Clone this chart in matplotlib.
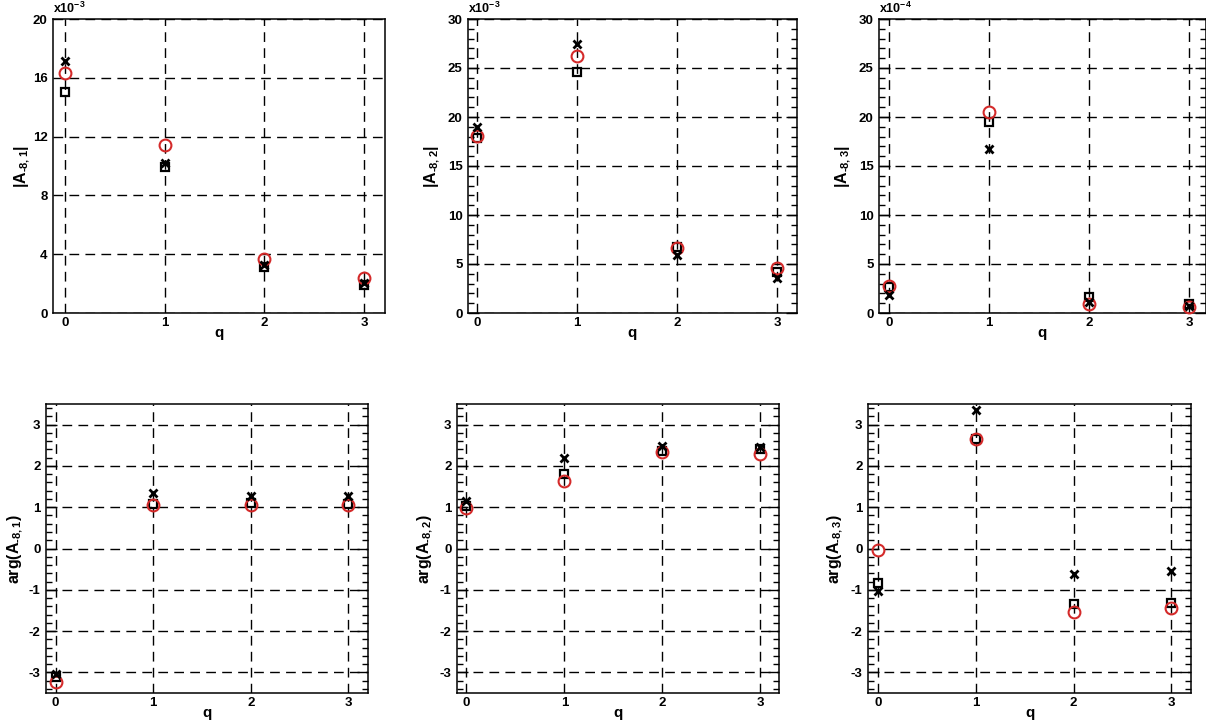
import matplotlib
matplotlib.use("Agg")
import matplotlib.pyplot as plt
from matplotlib.ticker import MultipleLocator, NullLocator

plt.rcParams['font.family'] = ['Liberation Sans', 'DejaVu Sans']
plt.rcParams['font.weight'] = 'bold'
plt.rcParams['axes.unicode_minus'] = False
plt.rcParams['mathtext.fontset'] = 'custom'
plt.rcParams['mathtext.rm'] = 'Liberation Sans:bold'
plt.rcParams['mathtext.it'] = 'Liberation Sans:bold'
plt.rcParams['mathtext.bf'] = 'Liberation Sans:bold'

# ---------------- data ----------------
q = [0, 1, 2, 3]

# |A_{-8,1}|  (x1e-3)
abs1_circle = [16.3, 11.45, 3.67, 2.35]
abs1_square = [15.0, 9.9, 3.15, 1.9]
abs1_cross = [17.15, 10.2, 3.26, 2.05]
# |A_{-8,2}|  (x1e-3)
abs2_circle = [18.1, 26.2, 6.65, 4.6]
abs2_square = [17.9, 24.6, 6.75, 4.2]
abs2_cross = [19.0, 27.4, 5.9, 3.6]
# |A_{-8,3}|  (x1e-4)
abs3_circle = [2.73, 20.55, 0.96, 0.6]
abs3_square = [2.7, 19.5, 1.64, 0.96]
abs3_cross = [1.8, 16.7, 1.1, 0.7]
# arg(A_{-8,1})
arg1_circle = [-3.24, 1.05, 1.06, 1.06]
arg1_square = [-3.11, 1.07, 1.09, 1.08]
arg1_cross = [-3.03, 1.34, 1.26, 1.26]
# arg(A_{-8,2})
arg2_circle = [0.98, 1.63, 2.33, 2.30]
arg2_square = [1.04, 1.80, 2.37, 2.41]
arg2_cross = [1.14, 2.19, 2.49, 2.46]
# arg(A_{-8,3})
arg3_circle = [-0.04, 2.65, -1.55, -1.44]
arg3_square = [-0.84, 2.65, -1.34, -1.32]
arg3_cross = [-1.02, 3.36, -0.62, -0.55]

ylabels = ['$|A_{\\text{-}8,1}|$', '$|A_{\\text{-}8,2}|$', '$|A_{\\text{-}8,3}|$',
           'arg$(A_{\\text{-}8,1})$', 'arg$(A_{\\text{-}8,2})$', 'arg$(A_{\\text{-}8,3})$']
exponents = ['-3', '-3', '-4', None, None, None]
xtick_labels = ['0', '1', '2', '3']

panels = [
    (abs1_circle, abs1_square, abs1_cross),
    (abs2_circle, abs2_square, abs2_cross),
    (abs3_circle, abs3_square, abs3_cross),
    (arg1_circle, arg1_square, arg1_cross),
    (arg2_circle, arg2_square, arg2_cross),
    (arg3_circle, arg3_square, arg3_cross),
]

# ---------------- layout (pixels) ----------------
W, H = 1206, 723
boxes = [  # left, right, top, bottom
    (53, 385, 19, 313),
    (468, 797, 19, 313),
    (879, 1206, 19, 313),
    (46, 368, 404, 693),
    (457, 779, 404, 693),
    (868, 1191, 404, 693),
]
xlims = [(-0.12, 3.21), (-0.093, 3.2), (-0.1, 3.17),
         (-0.098, 3.2), (-0.096, 3.19), (-0.1, 3.2)]
ylims = [(0, 20), (0, 30), (0, 30), (-3.5, 3.5), (-3.5, 3.5), (-3.5, 3.5)]
ymajor = [4, 5, 5, 1, 1, 1]
yminor = [None, 1, 1, 0.2, 0.2, 0.2]
ylabel_x = [22, 432, 843, 15, 425, 835]   # pixel x of y-label centre

fig = plt.figure(figsize=(W / 100, H / 100), dpi=100)
red = '#d42a2a'
fs = 9.5
axes = []

for i, (box, data) in enumerate(zip(boxes, panels)):
    l, r, t, b = box
    ax = fig.add_axes([l / W, 1 - b / H, (r - l) / W, (b - t) / H])
    axes.append(ax)
    ax.set_xlim(*xlims[i])
    ax.set_ylim(*ylims[i])
    ax.set_xticks(q)
    ax.set_xticklabels(xtick_labels)
    ax.yaxis.set_major_locator(MultipleLocator(ymajor[i]))
    if yminor[i]:
        ax.yaxis.set_minor_locator(MultipleLocator(yminor[i]))
    else:
        ax.yaxis.set_minor_locator(NullLocator())
    ax.tick_params(axis='x', length=0, pad=3, labelsize=fs)
    if i == 0:
        ax.tick_params(axis='y', which='both', length=0, pad=4, labelsize=fs)
    else:
        ax.tick_params(axis='y', which='major', direction='in', length=8,
                       width=1, left=True, right=True, pad=4, labelsize=fs)
        ax.tick_params(axis='y', which='minor', direction='in', length=4,
                       width=1, left=True, right=True)
    for s in ax.spines.values():
        s.set_linewidth(1.1)
    ax.grid(True, which='major', color='black', linewidth=1.0,
            linestyle=(0, (7, 4.5)))
    ax.set_axisbelow(True)

    c, s_, x_ = data
    ax.plot(q, s_, linestyle='none', marker='s', markersize=5.8,
            markerfacecolor='none', markeredgecolor='black',
            markeredgewidth=1.6, clip_on=False, zorder=3)
    ax.plot(q, c, linestyle='none', marker='o', markersize=8.5,
            markerfacecolor='none', markeredgecolor=red,
            markeredgewidth=1.5, clip_on=False, zorder=4)
    ax.plot(q, x_, linestyle='none', marker='x', markersize=6,
            markeredgecolor='black', markeredgewidth=2.0,
            clip_on=False, zorder=5)

    ax.set_xlabel('q', fontsize=11, fontweight='bold')
    ax.xaxis.label.set_va('center')
    ax.xaxis.set_label_coords(0.5, -20.0 / (b - t))
    ax.set_ylabel(ylabels[i], fontsize=11.5, fontweight='bold')
    ax.yaxis.label.set_va('center')
    ax.yaxis.set_label_coords(-(l - ylabel_x[i]) / (r - l), 0.5)
    if exponents[i]:
        ax.text(0.0, 1.01, r'x10$^{%s}$' % exponents[i], transform=ax.transAxes,
                ha='left', va='bottom', fontsize=9, fontweight='bold')

fig.canvas.draw()
for ax in axes:
    for lab in ax.get_xticklabels() + ax.get_yticklabels():
        lab.set_fontweight('bold')

fig.savefig('out.png', dpi=100)
